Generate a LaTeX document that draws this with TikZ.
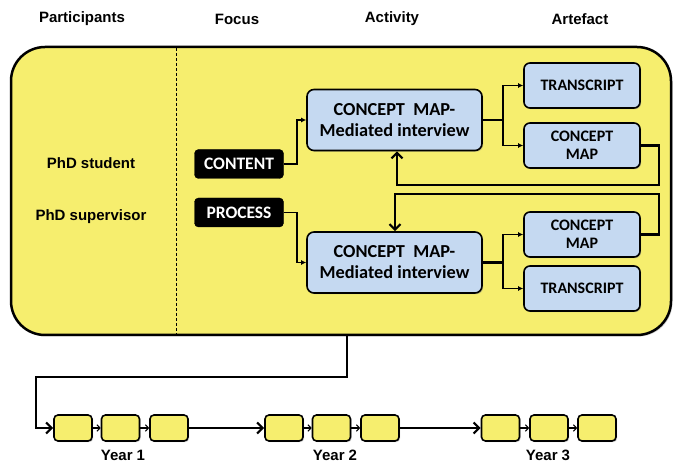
\documentclass[tikz,border=0pt]{standalone}
\usepackage{fontspec}
\setmainfont{Liberation Sans}
\newfontfamily\calib{Carlito}
\usetikzlibrary{arrows.meta,shadows}
\definecolor{ylw}{RGB}{246,238,110}
\definecolor{lblue}{RGB}{197,217,241}
\tikzset{
  header/.style={font=\fontsize{15}{17}\selectfont\bfseries},
  partlabel/.style={font=\fontsize{15}{17}\selectfont\bfseries},
  bigpanel/.style={draw=black,line width=2.5pt,fill=ylw,rounded corners=34pt,
     drop shadow={opacity=0.35,shadow xshift=1.5pt,shadow yshift=-1.5pt}},
  focusbox/.style={draw=black,fill=black,rounded corners=4pt,text=white,
     minimum width=89pt,minimum height=29pt,inner sep=0pt,
     font=\calib\fontsize{17.5}{19}\selectfont\bfseries},
  actbox/.style={draw=black,line width=1.6pt,fill=lblue,rounded corners=7pt,
     minimum width=175pt,minimum height=61pt,inner sep=0pt,align=center,
     font=\calib\fontsize{18.3}{21}\selectfont\bfseries,
     drop shadow={opacity=0.4,shadow xshift=1.2pt,shadow yshift=-1.2pt}},
  artbox/.style={draw=black,line width=1.6pt,fill=lblue,rounded corners=6pt,
     minimum width=116pt,minimum height=45pt,inner sep=0pt,align=center,
     font=\calib\fontsize{16}{18}\selectfont\bfseries,
     drop shadow={opacity=0.4,shadow xshift=1.2pt,shadow yshift=-1.2pt}},
  tbox/.style={draw=black,line width=1.6pt,fill=ylw,rounded corners=4pt,
     minimum width=38pt,minimum height=26pt,inner sep=0pt,
     drop shadow={opacity=0.4,shadow xshift=1.2pt,shadow yshift=-1.2pt}},
  yearlabel/.style={font=\fontsize{15}{17}\selectfont\bfseries},
  smallarrow/.style={line width=1.7pt,-{Latex[length=5pt,width=5pt]}},
  bigarrow/.style={line width=2.2pt,-{Straight Barb[length=5.5pt,width=11pt,line width=2.2pt]}},
  branch/.style={line width=2.2pt},
  tinyarrow/.style={line width=1.1pt,-{Straight Barb[length=3pt,width=6.5pt,line width=1.1pt]}},
}
\begin{document}
\begin{tikzpicture}[x=1pt,y=-1pt]
\useasboundingbox (0,0) rectangle (673,465);
% headers
\node[header] (hpart) at (82,19) {Participants};
\node[header] (hfocus) at (237,19) {Focus};
\node[header] (hact) at (392,19) {Activity};
\node[header] (hart) at (580,19) {Artefact};
% panel
\node[bigpanel,minimum width=660pt,minimum height=288pt,inner sep=0pt] (panel) at (341,191) {};
\draw[line width=0.8pt,dash pattern=on 3pt off 2pt] (176,48) -- (176,334);
% participants
\node[partlabel] (stud) at (91,163) {PhD student};
\node[partlabel] (sup) at (91,217) {PhD supervisor};
% focus
\node[focusbox] (content) at (239,164) {CONTENT};
\node[focusbox] (process) at (239,212.5) {PROCESS};
% activities
\node[actbox] (act1) at (394.5,120) {CONCEPT~ MAP-\\Mediated interview};
\node[actbox] (act2) at (394.5,262.5) {CONCEPT~ MAP-\\Mediated interview};
% artefacts
\node[artbox] (tr1) at (582,85.5) {TRANSCRIPT};
\node[artbox] (cm1) at (582,145.5) {CONCEPT\\MAP};
\node[artbox] (cm2) at (582,234.5) {CONCEPT\\MAP};
\node[artbox] (tr2) at (582,288.5) {TRANSCRIPT};
% focus -> activity
\draw[smallarrow] (content.east) -- ++(13,0) |- (act1.west);
\draw[smallarrow] (process.east) -- ++(13,0) |- (act2.west);
% activity -> artefacts
\coordinate (b1) at (503,120);
\coordinate (b2) at (503,262.5);
\draw[branch] (act1.east) -- (b1);
\draw[smallarrow] (b1) |- (tr1.west);
\draw[smallarrow] (b1) |- (cm1.west);
\draw[branch] (act2.east) -- (b2);
\draw[smallarrow] (b2) |- (cm2.west);
\draw[smallarrow] (b2) |- (tr2.west);
% feedback loops
\coordinate (f1) at (397,185);
\coordinate (f2) at (395,194);
\draw[bigarrow] (cm1.east) -- ++(18,0) |- (f1) -- (f1 |- act1.south);
\draw[bigarrow] (cm2.east) -- ++(18,0) |- (f2) -- (f2 |- act2.north);
% timeline
\node[tbox] (y1a) at (73,428) {};
\node[tbox] (y1b) at (120.5,428) {};
\node[tbox] (y1c) at (169,428) {};
\node[tbox] (y2a) at (284,428) {};
\node[tbox] (y2b) at (331.5,428) {};
\node[tbox] (y2c) at (380,428) {};
\node[tbox] (y3a) at (500.5,428) {};
\node[tbox] (y3b) at (549,428) {};
\node[tbox] (y3c) at (597,428) {};
\coordinate (t1) at (347,377);
\coordinate (t2) at (36,377);
\draw[bigarrow] (t1 |- panel.south) -- (t1) -- (t2) |- (y1a.west);
\draw[tinyarrow] (y1a) -- (y1b);
\draw[tinyarrow] (y1b) -- (y1c);
\draw[bigarrow] (y1c) -- (y2a);
\draw[tinyarrow] (y2a) -- (y2b);
\draw[tinyarrow] (y2b) -- (y2c);
\draw[bigarrow] (y2c) -- (y3a);
\draw[tinyarrow] (y3a) -- (y3b);
\draw[tinyarrow] (y3b) -- (y3c);
\node[yearlabel] (yr1) at (123,455.5) {Year 1};
\node[yearlabel] (yr2) at (335,455.5) {Year 2};
\node[yearlabel] (yr3) at (548,455.5) {Year 3};
\end{tikzpicture}
\end{document}
